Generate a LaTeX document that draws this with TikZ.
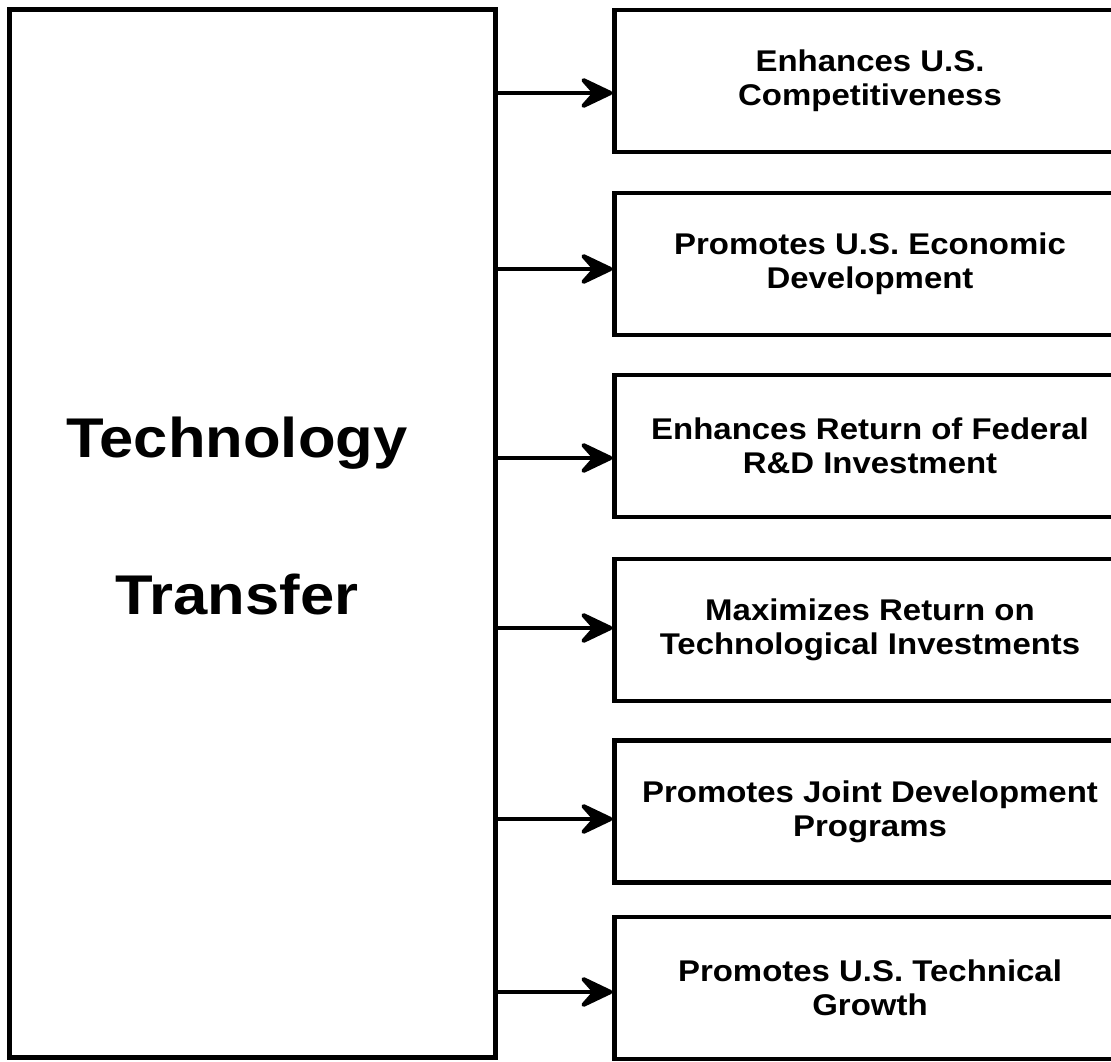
\documentclass[tikz,border=0pt]{standalone}
\usepackage{fontspec}
\setmainfont{Liberation Sans}[FakeStretch=1.1]
\usetikzlibrary{arrows.meta}

\begin{document}
\begin{tikzpicture}[x=0.025cm, y=-0.025cm,
    ttbox/.style={draw, line width=3.5pt, minimum width=12.125cm, minimum height=26.175cm, inner sep=0pt},
    ttlabel/.style={align=center, inner sep=0pt, font=\fontsize{39.8pt}{111.7pt}\selectfont\bfseries},
    goalbox/.style={draw, line width=3.5pt, minimum width=12.75cm, minimum height=3.55cm, inner sep=0pt,
        align=center, font=\fontsize{21.3pt}{24.2pt}\selectfont\bfseries},
    feed/.style={line width=3pt, -{Stealth[length=1cm, width=0.95cm, inset=0.42cm, round]}}]

    \clip (0,0) rectangle (1111,1062);

    % Technology transfer block
    \node[ttbox] (tt) at (252.5,533.5) {};
    \node[ttlabel] (ttname) at (237,516) {Technology\\Transfer};

    % Benefit boxes, each fed by one arrow
    \foreach \i/\yc/\ay/\txt in {1/81/93/{Enhances U.S.\\Competitiveness},
                                 2/264/269/{Promotes U.S. Economic\\Development},
                                 3/446/458/{Enhances Return of Federal\\R\&D Investment},
                                 4/630/628/{Maximizes Return on\\Technological Investments},
                                 5/811.5/819/{Promotes Joint Development\\Programs},
                                 6/988/992/{Promotes U.S. Technical\\Growth}} {
        \node[goalbox] (goal\i) at (870,\yc) {\txt};
        \draw[feed] (tt.east |- 0,\ay) -- (goal\i.west |- 0,\ay);
    }
\end{tikzpicture}
\end{document}
